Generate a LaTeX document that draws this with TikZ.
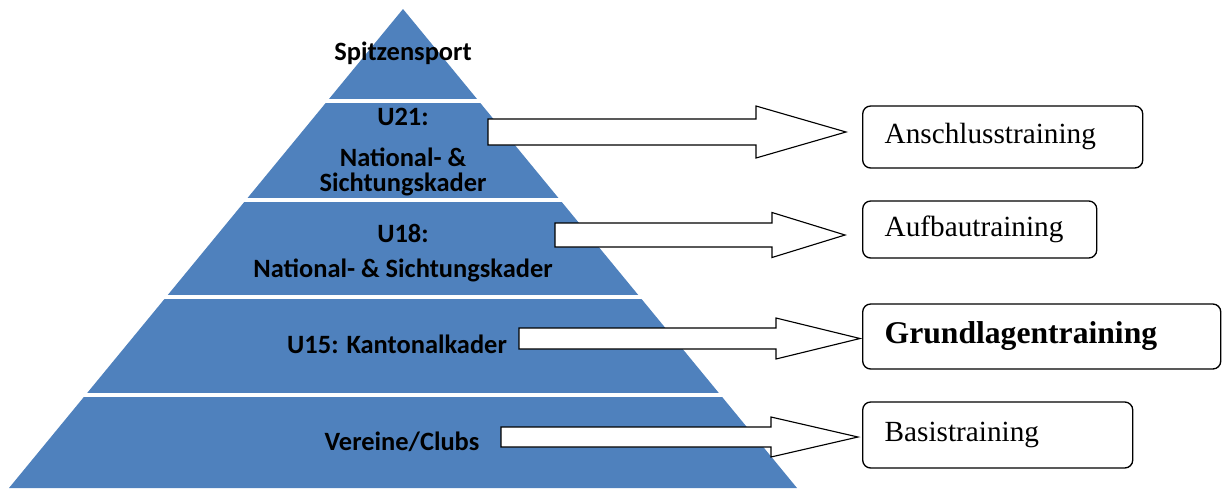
\documentclass[tikz,border=0pt]{standalone}
\usepackage{fontspec}
\setmainfont{Liberation Serif}
\newfontfamily\pyrfont{Carlito}
\usetikzlibrary{calc}
\definecolor{pyrblue}{HTML}{4F81BD}
\tikzset{
  level/.style={font=\pyrfont\bfseries\fontsize{18.8}{22}\selectfont, anchor=base, inner sep=0pt},
  trainbox/.style={draw, line width=0.95pt, rounded corners=0.2cm, anchor=west, align=left,
    inner xsep=0.55cm, inner ysep=0pt, font=\fontsize{20.8}{24}\selectfont},
  blockarrow/.style={draw, fill=white, line width=0.8pt, line join=miter},
  gapline/.style={white, line width=0.1cm}
}
% start, tip, shaft half width, head half width, head length
\newcommand{\blockarrow}[5]{%
  \draw[blockarrow] ($(#1)+(0,-#3)$) -- ($(#2)+(-#5,-#3)$) -- ($(#2)+(-#5,-#4)$) -- (#2)
    -- ($(#2)+(-#5,#4)$) -- ($(#2)+(-#5,#3)$) -- ($(#1)+(0,#3)$) -- cycle;}

\begin{document}
\begin{tikzpicture}[x=0.025cm, y=-0.025cm]
  \useasboundingbox (0,0) rectangle (1222,488);

  \fill[pyrblue] (403,9) -- (797,488) -- (9,488) -- cycle;
  \foreach \y in {101,199.5,297,394.5}
    \draw[gapline] (0,\y) -- (820,\y);

  \node[level] (top) at (403,60) {Spitzensport};
  \node[level] (u21) at (403,125) {U21:};
  \node[level] (u21a) at (403,166) {National- \&};
  \node[level] (u21b) at (403,191) {Sichtungskader};
  \node[level] (u18) at (403,242) {U18:};
  \node[level] (u18a) at (403,277) {National- \& Sichtungskader};
  \node[level] (u15) at (397,353) {U15: Kantonalkader};
  \node[level] (clubs) at (402,450) {Vereine/Clubs};

  \node[trainbox, minimum height=1.55cm, text width=5.9cm] (ansch) at (862,137) {Anschlusstraining};
  \node[trainbox, minimum height=1.425cm, text width=4.75cm] (aufbau) at (862,229.5) {Aufbautraining};
  \node[trainbox, minimum height=1.625cm, text width=7.85cm,
    font=\bfseries\fontsize{22.5}{26}\selectfont] (grund) at (862,336.5) {Grundlagentraining};
  \node[trainbox, minimum height=1.65cm, text width=5.65cm] (basis) at (862,435) {Basistraining};

  \coordinate (s21) at (488,132);   \coordinate (t21) at (846,132);
  \coordinate (s18) at (555,235);   \coordinate (t18) at (845,235);
  \coordinate (s15) at (519,338.5); \coordinate (t15) at (860,338.5);
  \coordinate (sclubs) at (501,437); \coordinate (tclubs) at (858,437);

  \blockarrow{s21}{t21}{13}{26}{90}
  \blockarrow{s18}{t18}{12}{22.5}{73}
  \blockarrow{s15}{t15}{10.5}{20.5}{84}
  \blockarrow{sclubs}{tclubs}{10}{20}{87}
\end{tikzpicture}
\end{document}
